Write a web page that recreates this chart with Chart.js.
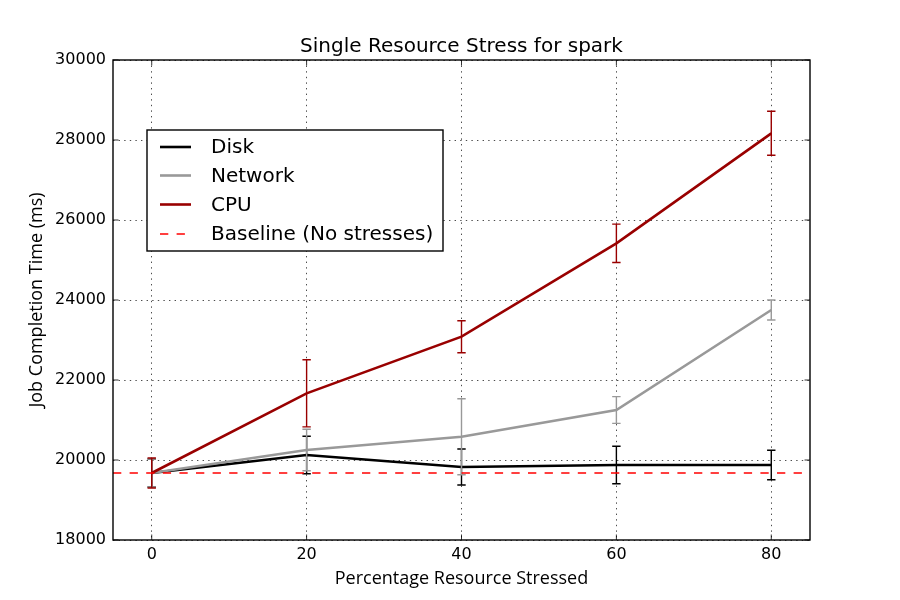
<!DOCTYPE html>
<html><head><meta charset="utf-8">
<script src="https://cdn.jsdelivr.net/npm/chart.js@4"></script>
<style>html,body{margin:0;padding:0;background:#fff}#wrap{width:900px;height:600px}</style>
</head><body><div id="wrap"><canvas id="c" width="900" height="600"></canvas></div>
<script>
// ---- data ----
const stressPct = [0, 20, 40, 60, 80];
const diskMs = [19675, 20125, 19825, 19875, 19875];
const diskErr = [350, 470, 450, 470, 370];
const networkMs = [19675, 20250, 20583, 21250, 23750];
const networkErr = [350, 520, 950, 335, 250];
const cpuMs = [19675, 21667, 23083, 25417, 28167];
const cpuErr = [375, 840, 400, 480, 550];
const baselineMs = 19675;
const xTicks = [0, 20, 40, 60, 80];
const yTicks = [18000, 20000, 22000, 24000, 26000, 28000, 30000];
const xTickLabels = ['0', '20', '40', '60', '80'];
const yTickLabels = ['18000', '20000', '22000', '24000', '26000', '28000', '30000'];
const xRange = [-5, 85];
const yRange = [18000, 30000];
const labels = ['Disk', 'Network', 'CPU', 'Baseline (No stresses)'];
const colors = ['#000000', '#999999', '#990000', '#ff0000'];

const pts = arr => stressPct.map((x, i) => ({x: x, y: arr[i]}));

const errPlugin = {
  id: 'errbars',
  afterDatasetDraw(chart, args) {
    const ds = chart.data.datasets[args.index];
    if (!ds.errors) return;
    const {ctx, scales: {x, y}} = chart;
    ctx.save();
    ctx.strokeStyle = ds.borderColor;
    ctx.lineWidth = 1.4;
    ds.data.forEach((p, i) => {
      const e = ds.errors[i];
      const px = x.getPixelForValue(p.x);
      const t = y.getPixelForValue(p.y + e), b = y.getPixelForValue(p.y - e);
      ctx.beginPath();
      ctx.moveTo(px, t); ctx.lineTo(px, b);
      ctx.moveTo(px - 4.2, t); ctx.lineTo(px + 4.2, t);
      ctx.moveTo(px - 4.2, b); ctx.lineTo(px + 4.2, b);
      ctx.stroke();
    });
    ctx.restore();
  }
};

const framePlugin = {
  id: 'frame',
  afterDraw(chart) {
    const {ctx, chartArea: a, scales: {x, y}} = chart;
    ctx.save();
    ctx.strokeStyle = '#000';
    // inner ticks
    ctx.lineWidth = 0.8;
    ctx.beginPath();
    x.ticks.forEach(t => {
      const px = x.getPixelForValue(t.value);
      ctx.moveTo(px, a.bottom); ctx.lineTo(px, a.bottom - 5.5);
      ctx.moveTo(px, a.top); ctx.lineTo(px, a.top + 5.5);
    });
    y.ticks.forEach(t => {
      const py = y.getPixelForValue(t.value);
      ctx.moveTo(a.left, py); ctx.lineTo(a.left + 5.5, py);
      ctx.moveTo(a.right, py); ctx.lineTo(a.right - 5.5, py);
    });
    ctx.stroke();
    // frame
    ctx.lineWidth = 1.4;
    ctx.strokeRect(a.left, a.top, a.right - a.left, a.bottom - a.top);
    // legend
    const L = 147, T = 130, R = 443, B = 251;
    ctx.fillStyle = '#fff';
    ctx.fillRect(L, T, R - L, B - T);
    ctx.strokeRect(L, T, R - L, B - T);
    const rows = [147, 175.5, 204.5, 234];
    chart.data.datasets.forEach((ds, i) => {
      const ry = rows[i];
      ctx.save();
      ctx.strokeStyle = ds.borderColor;
      ctx.lineWidth = ds.borderWidth;
      ctx.setLineDash(ds.borderDash || []);
      ctx.beginPath(); ctx.moveTo(160, ry); ctx.lineTo(191, ry); ctx.stroke();
      ctx.restore();
      ctx.fillStyle = '#000';
      ctx.font = '20px "DejaVu Sans"';
      ctx.textBaseline = 'middle';
      ctx.textAlign = 'left';
      ctx.fillText(ds.label, 211, ry + 1);
    });
    ctx.restore();
  }
};

new Chart(document.getElementById('c'), {
  type: 'line',
  data: {
    datasets: [
      {label: labels[0], data: pts(diskMs), errors: diskErr, borderColor: colors[0], borderWidth: 2.6, pointRadius: 0, order: 3, tension: 0},
      {label: labels[1], data: pts(networkMs), errors: networkErr, borderColor: colors[1], borderWidth: 2.6, pointRadius: 0, order: 2, tension: 0},
      {label: labels[2], data: pts(cpuMs), errors: cpuErr, borderColor: colors[2], borderWidth: 2.6, pointRadius: 0, order: 1, tension: 0},
      {label: labels[3], data: [{x: xRange[0], y: baselineMs}, {x: xRange[1], y: baselineMs}], borderColor: colors[3], borderWidth: 1.3, borderDash: [8.3, 8.3], pointRadius: 0, order: 0}
    ]
  },
  options: {
    responsive: false,
    animation: false,
    layout: {padding: {left: 0, right: 90, top: 0, bottom: 0}},
    plugins: {
      legend: {display: false},
      tooltip: {enabled: false},
      title: {display: true, fullSize: false, text: 'Single Resource Stress for spark', color: '#000',
        font: {family: 'DejaVu Sans', size: 20, weight: 'normal', lineHeight: 1.2},
        padding: {top: 35, bottom: 1}}
    },
    scales: {
      x: {
        type: 'linear', min: xRange[0], max: xRange[1],
        afterBuildTicks: s => { s.ticks = xTicks.map(v => ({value: v})); },
        afterFit: s => { s.height = 60; },
        grid: {color: '#000', lineWidth: 0.7, drawTicks: false},
        border: {display: false, dash: [1.4, 4.2]},
        ticks: {color: '#000', font: {family: 'DejaVu Sans', size: 16}, padding: 5, maxRotation: 0,
          callback: v => xTickLabels[xTicks.indexOf(v)]},
        title: {display: true, text: 'Percentage Resource Stressed', color: '#000',
          font: {family: 'Open Sans', size: 18}, padding: {top: 0, bottom: 10}}
      },
      y: {
        type: 'linear', min: yRange[0], max: yRange[1],
        afterBuildTicks: s => { s.ticks = yTicks.map(v => ({value: v})); },
        afterFit: s => { s.width = 113; },
        grid: {color: '#000', lineWidth: 0.7, drawTicks: false},
        border: {display: false, dash: [1.4, 4.2]},
        ticks: {color: '#000', font: {family: 'DejaVu Sans', size: 16}, padding: 7,
          callback: v => yTickLabels[yTicks.indexOf(v)]},
        title: {display: true, text: 'Job Completion Time (ms)', color: '#000',
          font: {family: 'Open Sans', size: 18}, padding: {top: 26, bottom: 0}}
      }
    }
  },
  plugins: [errPlugin, framePlugin]
});
</script>
</body></html>
